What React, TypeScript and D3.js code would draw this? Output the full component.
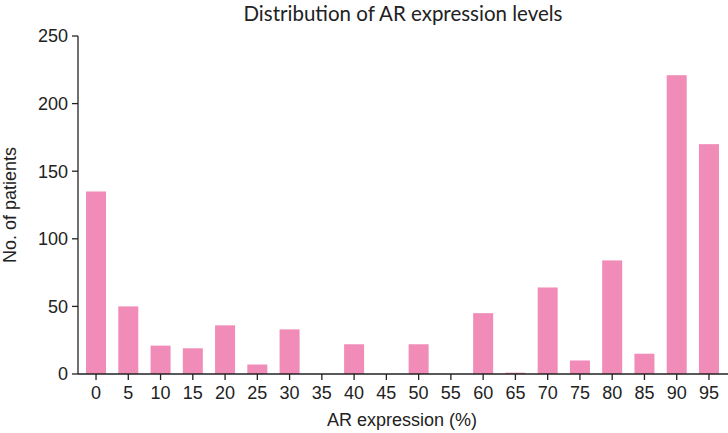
import React, { useEffect, useRef } from "react";
import * as d3 from "d3";

const categories: string[] = ["0","5","10","15","20","25","30","35","40","45","50","55","60","65","70","75","80","85","90","95"];
const patients: number[] = [135, 50, 21, 19, 36, 7, 33, 0, 22, 0, 22, 0, 45, 1, 64, 10, 84, 15, 221, 170];
const yTicks: number[] = [0, 50, 100, 150, 200, 250];

const W = 728;
const H = 433;
const BAR_COLOR = "#f08cb7";
const FONT = "'Liberation Sans', Arial, Helvetica, sans-serif";

export default function App() {
  const ref = useRef<SVGSVGElement>(null);

  useEffect(() => {
    const svg = d3.select(ref.current);
    svg.selectAll("*").remove();

    const x0 = 79.9, x1 = 725.1;
    const yBase = 374, yTop = 36;
    const axisX = 78;

    const x = d3.scaleBand<string>().domain(categories).range([x0, x1]).paddingInner(0.38).paddingOuter(0.19);
    const y = d3.scaleLinear().domain([0, 250]).range([yBase, yTop]);

    // bars
    svg.append("g")
      .selectAll("rect")
      .data(categories.map((c, i) => ({ c, v: patients[i] })))
      .join("rect")
      .attr("x", d => x(d.c)!)
      .attr("width", x.bandwidth())
      .attr("y", d => y(d.v))
      .attr("height", d => yBase - y(d.v))
      .attr("fill", BAR_COLOR);

    // y axis
    const gy = svg.append("g").attr("transform", `translate(${axisX},0)`);
    gy.append("line").attr("x1", 0).attr("x2", 0).attr("y1", yTop).attr("y2", yBase)
      .attr("stroke", "#222").attr("stroke-width", 1.3);
    yTicks.forEach(t => {
      gy.append("line").attr("x1", -6).attr("x2", 0).attr("y1", y(t)).attr("y2", y(t))
        .attr("stroke", "#222").attr("stroke-width", 1.3);
      gy.append("text").attr("x", -10).attr("y", y(t)).attr("dy", "0.36em")
        .attr("text-anchor", "end").style("font-family", FONT).attr("font-size", 18)
        .attr("fill", "#222").text(String(t));
    });

    // x axis
    const gx = svg.append("g").attr("transform", `translate(0,${yBase})`);
    gx.append("line").attr("x1", axisX).attr("x2", W).attr("y1", 0).attr("y2", 0)
      .attr("stroke", "#222").attr("stroke-width", 1.3);
    categories.forEach(c => {
      const cx = x(c)! + x.bandwidth() / 2;
      gx.append("line").attr("x1", cx).attr("x2", cx).attr("y1", 0).attr("y2", 6)
        .attr("stroke", "#222").attr("stroke-width", 1.3);
      gx.append("text").attr("x", cx).attr("y", 25)
        .attr("text-anchor", "middle").style("font-family", FONT).attr("font-size", 18)
        .attr("fill", "#222").text(c);
    });

    // axis titles
    svg.append("text").attr("x", 402).attr("y", 426).attr("text-anchor", "middle")
      .style("font-family", FONT).attr("font-size", 18).attr("fill", "#222").text("AR expression (%)");
    svg.append("text").attr("transform", `translate(16,205) rotate(-90)`).attr("text-anchor", "middle")
      .style("font-family", FONT).attr("font-size", 18).attr("fill", "#222").text("No. of patients");

    // chart title
    svg.append("text").attr("x", 403).attr("y", 20.5).attr("text-anchor", "middle")
      .style("font-family", "Lato, 'Open Sans', sans-serif").attr("font-size", 20.5)
      .attr("fill", "#222").text("Distribution of AR expression levels");
  }, []);

  return (
    <svg ref={ref} width={W} height={H}
      style={{ position: "absolute", left: 0, top: 0, background: "#fff", display: "block" }} />
  );
}
